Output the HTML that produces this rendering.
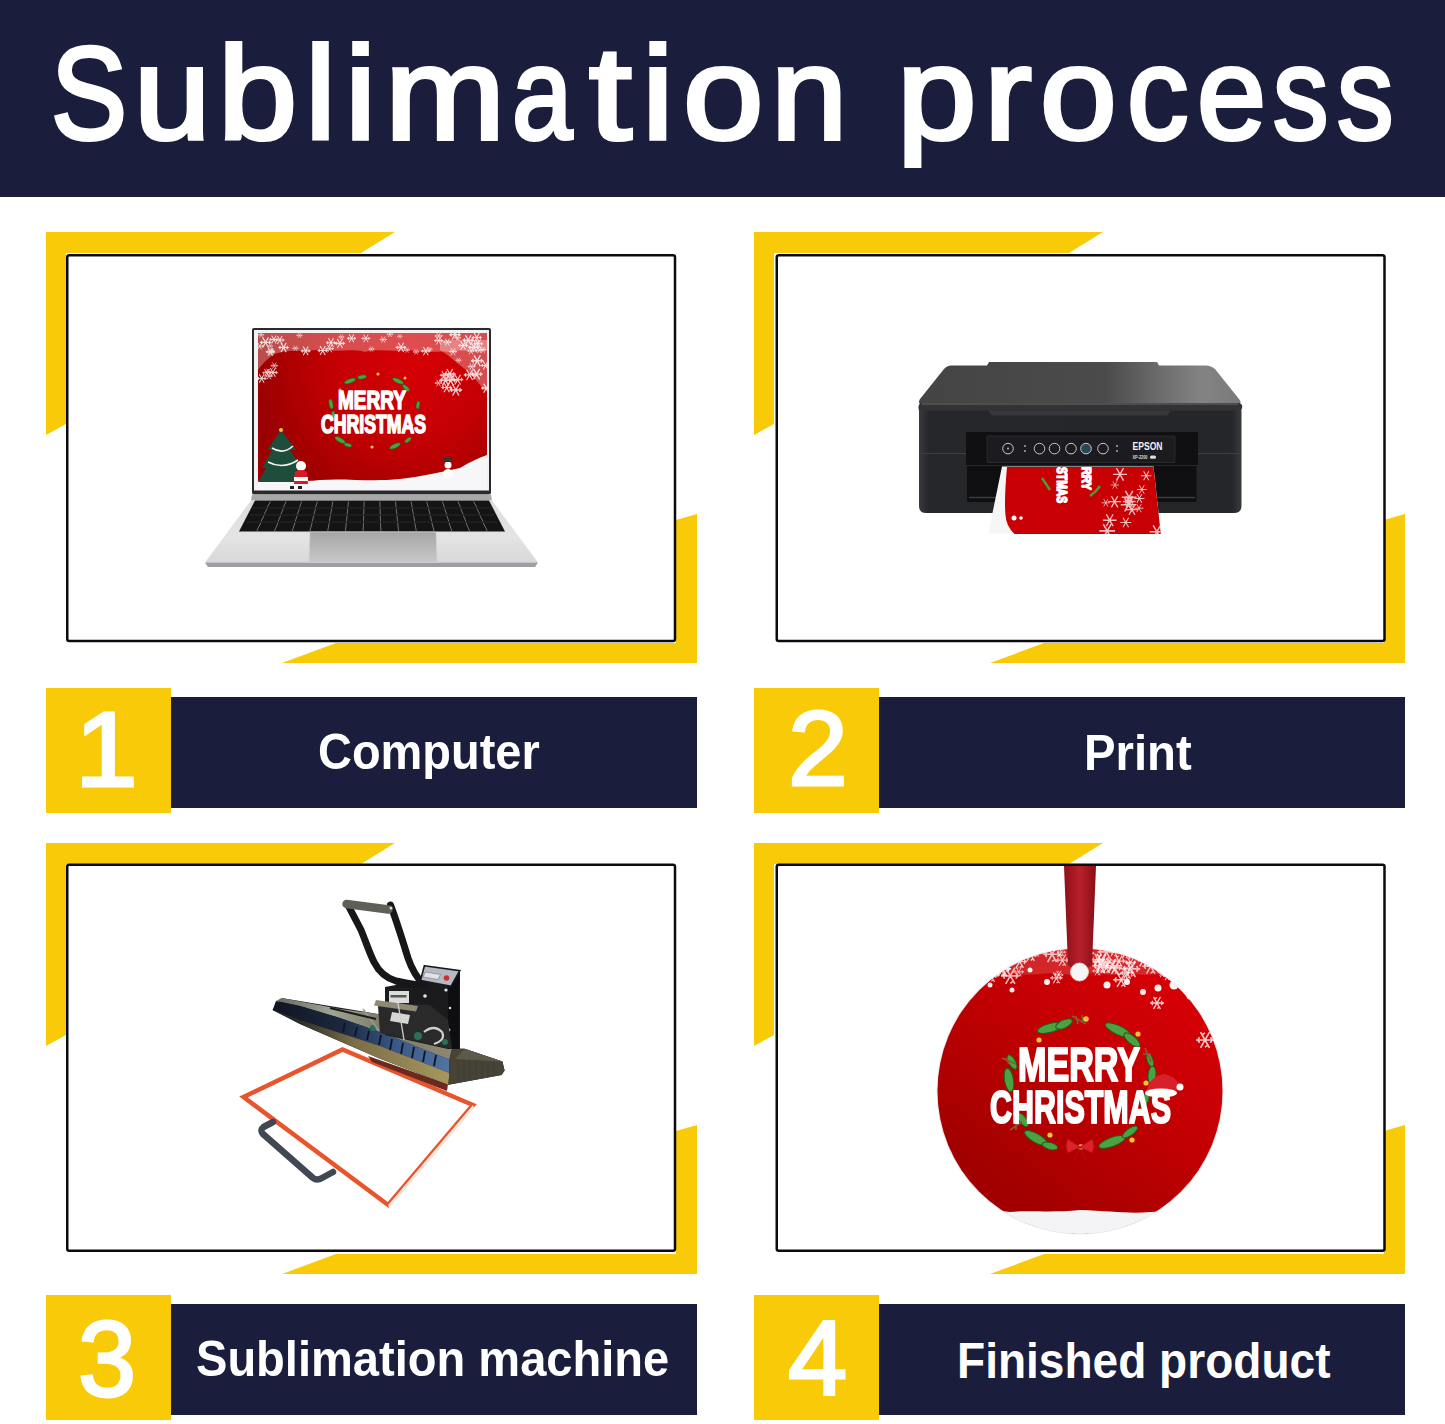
<!DOCTYPE html>
<html><head><meta charset="utf-8">
<style>
html,body{margin:0;padding:0;background:#fff;}
body{width:1445px;height:1424px;position:relative;overflow:hidden;font-family:"Liberation Sans",sans-serif;}
.abs{position:absolute;}
#hdr{left:0;top:0;width:1445px;height:197px;background:#1a1d3c;}
#hdr span{position:absolute;color:#fff;font-size:132px;-webkit-text-stroke:4px #fff;white-space:pre;line-height:1;transform-origin:0 0;}
.lbl{position:absolute;color:#fff;font-weight:700;font-size:50px;white-space:pre;line-height:1;transform-origin:0 0;}
.dig{position:absolute;color:#fff;font-size:108px;-webkit-text-stroke:3px #fff;white-space:pre;line-height:1;transform-origin:0 0;}
svg{position:absolute;left:0;top:0;}
</style></head><body>
<div id="hdr" class="abs">
<span style="left:50.5px;top:28px;transform:scaleX(0.863)">S</span>
<span style="left:133.8px;top:28px;transform:scaleX(1.041)">u</span>
<span style="left:217.5px;top:28px;transform:scaleX(1.078)">b</span>
<span style="left:305.1px;top:28px;transform:scaleX(1.056)">l</span>
<span style="left:344.6px;top:28px;transform:scaleX(1.062)">i</span>
<span style="left:385.4px;top:28px;transform:scaleX(1.093)">m</span>
<span style="left:511.5px;top:28px;transform:scaleX(0.822)">a</span>
<span style="left:588.6px;top:28px;transform:scaleX(1.168)">t</span>
<span style="left:642.1px;top:28px;transform:scaleX(1.081)">i</span>
<span style="left:682.5px;top:28px;transform:scaleX(1.097)">o</span>
<span style="left:770.5px;top:28px;transform:scaleX(1.038)">n</span>
<span style="left:897.0px;top:28px;transform:scaleX(1.083)">p</span>
<span style="left:984.1px;top:28px;transform:scaleX(1.089)">r</span>
<span style="left:1039.9px;top:28px;transform:scaleX(1.045)">o</span>
<span style="left:1127.2px;top:28px;transform:scaleX(0.931)">c</span>
<span style="left:1196.6px;top:28px;transform:scaleX(0.940)">e</span>
<span style="left:1273.2px;top:28px;transform:scaleX(0.839)">s</span>
<span style="left:1337.1px;top:28px;transform:scaleX(0.855)">s</span>
</div>
<svg width="1445" height="1424" viewBox="0 0 1445 1424">
 <defs>
  <g id="yframe">
   <polygon fill="#f9ca08" points="46,232 395,232 361,253 66,253 66,424 46,435"/>
   <polygon fill="#f9ca08" points="697,514 697,663 282,663 336,643 676,643 676,520"/>
  </g>
  <g id="label">
   <rect x="46" y="688" width="125" height="125" fill="#f9ca08"/>
   <rect x="171" y="697" width="526" height="111" fill="#1a1d3c"/>
  </g>
 </defs>
 <use href="#yframe"/>
 <use href="#yframe" x="708"/>
 <use href="#yframe" y="611"/>
 <use href="#yframe" x="708" y="611"/>
 <g fill="#fff" stroke="#0a0a10" stroke-width="2.5">
  <rect x="67.25" y="255.25" width="607.75" height="385.8" rx="2"/>
  <rect x="776.75" y="255.25" width="607.75" height="385.8" rx="2"/>
  <rect x="67.25" y="864.85" width="607.75" height="385.9" rx="2"/>
  <rect x="776.75" y="864.85" width="607.75" height="385.9" rx="2"/>
 </g>
 <use href="#label"/>
 <use href="#label" x="708"/>
 <use href="#label" y="607"/>
 <use href="#label" x="708" y="607"/>
</svg>
<svg width="1445" height="1424" viewBox="0 0 1445 1424">
<g id="laptop">
 <defs>
  <radialGradient id="lscr" cx="410" cy="365" r="155" gradientUnits="userSpaceOnUse"><stop offset="0" stop-color="#d60006"/><stop offset="0.5" stop-color="#c40003"/><stop offset="1" stop-color="#9a0000"/></radialGradient>
  <linearGradient id="ldeck" x1="0" y1="0" x2="0" y2="1">
   <stop offset="0" stop-color="#dcdcdc"/><stop offset="0.6" stop-color="#e4e4e4"/><stop offset="1" stop-color="#d8d8d8"/>
  </linearGradient>
 </defs>
 <rect x="252" y="328" width="239" height="166.5" rx="2" fill="#2a2a2d"/>
 <rect x="254" y="330" width="235" height="160.5" fill="#f2f2f4"/>
 <clipPath id="lclip"><rect x="258" y="333" width="229" height="157"/></clipPath>
 <g clip-path="url(#lclip)">
 <rect x="258" y="333" width="229" height="157" fill="url(#lscr)"/>
 <!-- top snow fringe -->
 <defs>
  <g id="lflake" stroke="#fff" stroke-width="2.2" fill="none">
   <path d="M-10,0 H10 M-5,-8.7 L5,8.7 M-5,8.7 L5,-8.7 M6,-3 L8,0 L6,3 M-6,-3 L-8,0 L-6,3"/>
  </g>
 </defs>
 <path d="M258,333 H487 V350 C475,354 465,348 452,352 C440,350 425,354 410,350 C395,353 380,348 365,352 C350,348 335,353 320,349 C305,353 290,348 275,354 C268,358 262,364 258,370 Z" fill="#fff" opacity="0.3"/>
 <path d="M440,340 H487 V392 C480,386 474,376 466,370 C458,364 450,356 440,350 Z" fill="#fff" opacity="0.3"/>
 <g opacity="0.8">
 <use href="#lflake" transform="translate(401.0,347.4) scale(0.53)"/>
 <use href="#lflake" transform="translate(473.9,347.3) scale(0.57)"/>
 <use href="#lflake" transform="translate(265.6,342.4) scale(0.58)"/>
 <use href="#lflake" transform="translate(407.0,350.2) scale(0.29)"/>
 <use href="#lflake" transform="translate(365.9,338.4) scale(0.44)"/>
 <use href="#lflake" transform="translate(389.9,334.2) scale(0.33)"/>
 <use href="#lflake" transform="translate(322.7,350.5) scale(0.52)"/>
 <use href="#lflake" transform="translate(295.4,348.3) scale(0.30)"/>
 <use href="#lflake" transform="translate(399.8,336.3) scale(0.25)"/>
 <use href="#lflake" transform="translate(457.7,337.8) scale(0.33)"/>
 <use href="#lflake" transform="translate(483.0,349.7) scale(0.35)"/>
 <use href="#lflake" transform="translate(478.2,343.7) scale(0.49)"/>
 <use href="#lflake" transform="translate(305.7,350.9) scale(0.49)"/>
 <use href="#lflake" transform="translate(479.4,350.1) scale(0.35)"/>
 <use href="#lflake" transform="translate(341.4,337.0) scale(0.30)"/>
 <use href="#lflake" transform="translate(273.9,339.4) scale(0.46)"/>
 <use href="#lflake" transform="translate(259.8,346.2) scale(0.37)"/>
 <use href="#lflake" transform="translate(329.7,348.7) scale(0.42)"/>
 <use href="#lflake" transform="translate(331.0,342.7) scale(0.50)"/>
 <use href="#lflake" transform="translate(272.0,351.6) scale(0.26)"/>
 <use href="#lflake" transform="translate(430.0,349.2) scale(0.26)"/>
 <use href="#lflake" transform="translate(438.6,340.6) scale(0.45)"/>
 <use href="#lflake" transform="translate(261.1,334.8) scale(0.31)"/>
 <use href="#lflake" transform="translate(476.8,337.5) scale(0.51)"/>
 <use href="#lflake" transform="translate(471.0,351.0) scale(0.37)"/>
 <use href="#lflake" transform="translate(339.9,343.4) scale(0.52)"/>
 <use href="#lflake" transform="translate(283.6,347.5) scale(0.53)"/>
 <use href="#lflake" transform="translate(455.0,334.7) scale(0.58)"/>
 <use href="#lflake" transform="translate(279.8,340.1) scale(0.46)"/>
 <use href="#lflake" transform="translate(468.3,340.1) scale(0.57)"/>
 <use href="#lflake" transform="translate(383.3,339.6) scale(0.36)"/>
 <use href="#lflake" transform="translate(299.5,335.4) scale(0.30)"/>
 <use href="#lflake" transform="translate(416.1,351.9) scale(0.31)"/>
 <use href="#lflake" transform="translate(270.1,351.8) scale(0.44)"/>
 <use href="#lflake" transform="translate(351.5,338.3) scale(0.46)"/>
 <use href="#lflake" transform="translate(447.4,342.2) scale(0.40)"/>
 <use href="#lflake" transform="translate(271.7,350.5) scale(0.26)"/>
 <use href="#lflake" transform="translate(371.5,349.1) scale(0.30)"/>
 <use href="#lflake" transform="translate(425.8,351.1) scale(0.47)"/>
 <use href="#lflake" transform="translate(438.7,335.9) scale(0.40)"/>
 <use href="#lflake" transform="translate(438.5,383.0) scale(0.38)"/>
 <use href="#lflake" transform="translate(455.8,390.0) scale(0.63)"/>
 <use href="#lflake" transform="translate(485.6,365.4) scale(0.47)"/>
 <use href="#lflake" transform="translate(471.6,366.6) scale(0.38)"/>
 <use href="#lflake" transform="translate(453.0,351.6) scale(0.42)"/>
 <use href="#lflake" transform="translate(486.3,388.2) scale(0.53)"/>
 <use href="#lflake" transform="translate(458.5,360.2) scale(0.29)"/>
 <use href="#lflake" transform="translate(445.5,380.2) scale(0.64)"/>
 <use href="#lflake" transform="translate(450.6,380.4) scale(0.60)"/>
 <use href="#lflake" transform="translate(469.6,374.9) scale(0.59)"/>
 <use href="#lflake" transform="translate(450.7,376.7) scale(0.38)"/>
 <use href="#lflake" transform="translate(457.7,379.6) scale(0.56)"/>
 <use href="#lflake" transform="translate(446.7,387.5) scale(0.54)"/>
 <use href="#lflake" transform="translate(463.1,345.5) scale(0.50)"/>
 <use href="#lflake" transform="translate(444.3,375.2) scale(0.46)"/>
 <use href="#lflake" transform="translate(476.6,374.1) scale(0.61)"/>
 <use href="#lflake" transform="translate(449.8,374.0) scale(0.58)"/>
 <use href="#lflake" transform="translate(477.2,360.8) scale(0.63)"/>
 <use href="#lflake" transform="translate(272.9,372.5) scale(0.49)"/>
 <use href="#lflake" transform="translate(274.3,365.7) scale(0.36)"/>
 <use href="#lflake" transform="translate(261.7,378.5) scale(0.48)"/>
 <use href="#lflake" transform="translate(266.6,372.7) scale(0.42)"/>
 <use href="#lflake" transform="translate(270.7,351.9) scale(0.43)"/>
 <use href="#lflake" transform="translate(268.3,371.6) scale(0.33)"/>
 <use href="#lflake" transform="translate(269.0,376.0) scale(0.39)"/>
 <use href="#lflake" transform="translate(270.5,346.1) scale(0.25)"/>
 </g>
 <!-- wreath -->
 <g fill="#4aa33e" stroke="#1f5a26" stroke-width="0.6"><ellipse cx="350" cy="381" rx="6" ry="2.2" transform="rotate(-20 350 381)"/><ellipse cx="362" cy="377" rx="4.5" ry="2" transform="rotate(-10 362 377)"/><ellipse cx="398" cy="381" rx="6" ry="2.2" transform="rotate(25 398 381)"/><ellipse cx="406" cy="388" rx="4.5" ry="2" transform="rotate(45 406 388)"/><ellipse cx="331" cy="404" rx="5" ry="2" transform="rotate(80 331 404)"/><ellipse cx="333" cy="415" rx="4" ry="1.8" transform="rotate(95 333 415)"/><ellipse cx="418" cy="405" rx="4" ry="1.8" transform="rotate(100 418 405)"/><ellipse cx="340" cy="440" rx="6" ry="2.2" transform="rotate(30 340 440)"/><ellipse cx="348" cy="445" rx="4" ry="1.8" transform="rotate(15 348 445)"/><ellipse cx="395" cy="446" rx="6" ry="2.2" transform="rotate(-25 395 446)"/><ellipse cx="408" cy="440" rx="4" ry="1.8" transform="rotate(-40 408 440)"/></g>
 <g fill="#f5c04a"><circle cx="378" cy="374" r="1.6"/><circle cx="405" cy="378" r="1.5"/><circle cx="340" cy="390" r="1.5"/><circle cx="372" cy="447" r="1.6"/><circle cx="412" cy="425" r="1.4"/></g>
 <!-- text -->
 <g font-family="Liberation Sans" font-weight="700" fill="#fff" stroke="#fff" stroke-width="1.6" stroke-linejoin="round">
  <text x="338" y="409" font-size="26" textLength="68" lengthAdjust="spacingAndGlyphs">MERRY</text>
  <text x="321" y="433" font-size="26" textLength="105" lengthAdjust="spacingAndGlyphs">CHRISTMAS</text>
 </g>
 <!-- bottom snow -->
 <path d="M258,481 C280,478 300,483 320,480 C345,478 370,482 400,479 C420,477 440,472 460,468 C470,462 478,458 487,455 V490 H258 Z" fill="#f7f7f9"/>
 <!-- tree -->
 <path d="M281,430 L296,450 L290,450 L302,468 L296,468 L305,482 H258 L266,468 L262,468 L272,450 L267,450 Z" fill="#1e4d3c"/>
 <path d="M272,448 Q283,455 293,446 M268,462 Q283,470 298,460" stroke="#f4f4f4" stroke-width="1.6" fill="none"/>
 <circle cx="281" cy="430" r="2" fill="#f5c04a"/>
 <!-- santa -->
 <circle cx="301" cy="466" r="5" fill="#fff"/><path d="M295,472 Q301,468 307,472 L308,484 H294 Z" fill="#d81b22"/><path d="M294,477 H308 V481 H294Z" fill="#fff"/>
 <rect x="290" y="486" width="4" height="3" fill="#222"/><rect x="298" y="486" width="4" height="3" fill="#222"/>
 <!-- snowman -->
 <circle cx="448" cy="465" r="3.5" fill="#fff"/><circle cx="448" cy="474" r="5" fill="#fff"/><rect x="444" y="458" width="8" height="4" fill="#333"/>
 </g>
 <!-- base -->
 <polygon points="252,494.5 491,494.5 492,500.5 251,500.5" fill="#a8a8a8"/>
 <polygon points="251,500.5 492,500.5 538,562.5 205,562.5" fill="url(#ldeck)"/>
 <polygon points="205,562.5 538,562.5 535,567 208,567" fill="#9d9da3"/>
 <polygon points="255,500.5 489,500.5 505,531.5 239,531.5" fill="#141414"/>
 <g stroke="#7a7a7a" stroke-width="0.9">
  <line x1="270.4" y1="501.5" x2="267.2" y2="507.5"/>
  <line x1="286.0" y1="501.5" x2="283.4" y2="507.5"/>
  <line x1="301.6" y1="501.5" x2="299.5" y2="507.5"/>
  <line x1="317.3" y1="501.5" x2="315.6" y2="507.5"/>
  <line x1="332.9" y1="501.5" x2="331.7" y2="507.5"/>
  <line x1="348.5" y1="501.5" x2="347.8" y2="507.5"/>
  <line x1="364.2" y1="501.5" x2="363.9" y2="507.5"/>
  <line x1="379.8" y1="501.5" x2="380.1" y2="507.5"/>
  <line x1="395.5" y1="501.5" x2="396.2" y2="507.5"/>
  <line x1="411.1" y1="501.5" x2="412.3" y2="507.5"/>
  <line x1="426.7" y1="501.5" x2="428.4" y2="507.5"/>
  <line x1="442.4" y1="501.5" x2="444.5" y2="507.5"/>
  <line x1="458.0" y1="501.5" x2="460.6" y2="507.5"/>
  <line x1="473.6" y1="501.5" x2="476.8" y2="507.5"/>
  <line x1="267.2" y1="508.5" x2="264.1" y2="514.5"/>
  <line x1="283.4" y1="508.5" x2="280.7" y2="514.5"/>
  <line x1="299.5" y1="508.5" x2="297.3" y2="514.5"/>
  <line x1="315.6" y1="508.5" x2="313.9" y2="514.5"/>
  <line x1="331.7" y1="508.5" x2="330.5" y2="514.5"/>
  <line x1="347.8" y1="508.5" x2="347.1" y2="514.5"/>
  <line x1="363.9" y1="508.5" x2="363.7" y2="514.5"/>
  <line x1="380.1" y1="508.5" x2="380.3" y2="514.5"/>
  <line x1="396.2" y1="508.5" x2="396.9" y2="514.5"/>
  <line x1="412.3" y1="508.5" x2="413.5" y2="514.5"/>
  <line x1="428.4" y1="508.5" x2="430.1" y2="514.5"/>
  <line x1="444.5" y1="508.5" x2="446.7" y2="514.5"/>
  <line x1="460.6" y1="508.5" x2="463.3" y2="514.5"/>
  <line x1="476.8" y1="508.5" x2="479.9" y2="514.5"/>
  <line x1="264.1" y1="515.5" x2="261.0" y2="521.5"/>
  <line x1="280.7" y1="515.5" x2="278.1" y2="521.5"/>
  <line x1="297.3" y1="515.5" x2="295.1" y2="521.5"/>
  <line x1="313.9" y1="515.5" x2="312.2" y2="521.5"/>
  <line x1="330.5" y1="515.5" x2="329.3" y2="521.5"/>
  <line x1="347.1" y1="515.5" x2="346.4" y2="521.5"/>
  <line x1="363.7" y1="515.5" x2="363.5" y2="521.5"/>
  <line x1="380.3" y1="515.5" x2="380.5" y2="521.5"/>
  <line x1="396.9" y1="515.5" x2="397.6" y2="521.5"/>
  <line x1="413.5" y1="515.5" x2="414.7" y2="521.5"/>
  <line x1="430.1" y1="515.5" x2="431.8" y2="521.5"/>
  <line x1="446.7" y1="515.5" x2="448.9" y2="521.5"/>
  <line x1="463.3" y1="515.5" x2="465.9" y2="521.5"/>
  <line x1="479.9" y1="515.5" x2="483.0" y2="521.5"/>
  <line x1="261.0" y1="522.5" x2="256.7" y2="531.0"/>
  <line x1="278.1" y1="522.5" x2="274.5" y2="531.0"/>
  <line x1="295.1" y1="522.5" x2="292.2" y2="531.0"/>
  <line x1="312.2" y1="522.5" x2="309.9" y2="531.0"/>
  <line x1="329.3" y1="522.5" x2="327.7" y2="531.0"/>
  <line x1="346.4" y1="522.5" x2="345.4" y2="531.0"/>
  <line x1="363.5" y1="522.5" x2="363.1" y2="531.0"/>
  <line x1="380.5" y1="522.5" x2="380.9" y2="531.0"/>
  <line x1="397.6" y1="522.5" x2="398.6" y2="531.0"/>
  <line x1="414.7" y1="522.5" x2="416.3" y2="531.0"/>
  <line x1="431.8" y1="522.5" x2="434.1" y2="531.0"/>
  <line x1="448.9" y1="522.5" x2="451.8" y2="531.0"/>
  <line x1="465.9" y1="522.5" x2="469.5" y2="531.0"/>
  <line x1="483.0" y1="522.5" x2="487.3" y2="531.0"/>
 </g>
 <g stroke="#2e2e2e" stroke-width="0.8">
  <line x1="252" y1="508" x2="492" y2="508"/><line x1="250" y1="515" x2="494" y2="515"/><line x1="247" y1="522" x2="497" y2="522"/>
 </g>
 <linearGradient id="ltp" x1="0" y1="0" x2="0" y2="1"><stop offset="0" stop-color="#a6a6a6"/><stop offset="1" stop-color="#c8c8c8"/></linearGradient>
 <polygon points="310,532 436,532 437,562.5 309,562.5" fill="url(#ltp)" stroke="#d0d0d0" stroke-width="0.6"/>
</g>

<g id="printer">
 <defs>
  <linearGradient id="plid" x1="920" y1="0" x2="1240" y2="0" gradientUnits="userSpaceOnUse"><stop offset="0" stop-color="#444"/><stop offset="0.58" stop-color="#4b4b4b"/><stop offset="0.76" stop-color="#6e6e6e"/><stop offset="0.88" stop-color="#838383"/><stop offset="1" stop-color="#7a7a7a"/></linearGradient>
  <linearGradient id="pbody" x1="0" y1="0" x2="1" y2="0"><stop offset="0" stop-color="#3a3b3e"/><stop offset="0.03" stop-color="#26272a"/><stop offset="0.97" stop-color="#252629"/><stop offset="1" stop-color="#3a3b3e"/></linearGradient>
 </defs>
 <!-- lid top -->
 <path d="M951,365.5 L987,365.5 L989,362 L1157,362 L1159,365.5 L1206,365.5 Q1211,365.5 1215,369 L1239,399 Q1243,404 1237,405 L923,405 Q917,404 920,399 L944,369 Q947,365.5 951,365.5 Z" fill="url(#plid)"/>
 <!-- lid front edge -->
 <path d="M921,403 H1239 Q1243,404 1242,408 L1241,411 H919 L918.5,408 Q918,404 921,403 Z" fill="#333336"/>
 <line x1="922" y1="404" x2="1238" y2="404" stroke="#6a6a6e" stroke-width="1"/>
 <!-- body -->
 <path d="M919,410.5 H1241.5 V506 Q1241.5,513 1234,513 H926 Q919,513 919,506 Z" fill="url(#pbody)"/>
 <path d="M988,410.5 H1171 L1167,415.5 H992 Z" fill="#38383c"/>
 <line x1="920" y1="453.5" x2="966" y2="453.5" stroke="#3e3e42" stroke-width="1.2"/>
 <line x1="1198" y1="453.5" x2="1241" y2="453.5" stroke="#3e3e42" stroke-width="1.2"/>
 <!-- control panel -->
 <rect x="966" y="432" width="232" height="33" fill="#101012"/>
 <rect x="987" y="436" width="188" height="26.5" rx="1" fill="#1c1c20" stroke="#2e2e33" stroke-width="0.8"/>
 <g fill="none" stroke="#c8c8cc" stroke-width="1">
  <circle cx="1008" cy="448.6" r="5.3"/><circle cx="1039.5" cy="448.6" r="5.3"/><circle cx="1054.5" cy="448.6" r="5.3"/>
  <circle cx="1071" cy="448.6" r="5.3"/><circle cx="1103" cy="448.6" r="5.3"/>
 </g>
 <circle cx="1086" cy="448.6" r="5.3" fill="#2b4556" stroke="#c8c8cc" stroke-width="1"/>
 <g fill="#bbb"><circle cx="1025" cy="446" r="0.9"/><circle cx="1025" cy="451" r="0.9"/><circle cx="1117" cy="446" r="0.9"/><circle cx="1117" cy="451" r="0.9"/><circle cx="1008" cy="448.6" r="1"/></g>
 <text x="1132.5" y="450.2" font-family="Liberation Sans" font-weight="700" font-size="10.5" fill="#f2f2f2" textLength="30" lengthAdjust="spacingAndGlyphs">EPSON</text>
 <text x="1132.5" y="459" font-family="Liberation Sans" font-weight="700" font-size="4.5" fill="#dcdcdc" textLength="15" lengthAdjust="spacingAndGlyphs">XP-2200</text>
 <rect x="1150" y="455.5" width="6" height="3.2" rx="1.5" fill="#dcdcdc"/>
 <!-- tray slot -->
 <path d="M967,466 H1196.5 V500.5 Q1196.5,502 1195,502 H969 Q967,502 967,500 Z" fill="#0f0f11"/>
 <line x1="969" y1="497.5" x2="1195" y2="497.5" stroke="#3c3c40" stroke-width="1.5"/>
 <!-- paper -->
 <path d="M1002,466.5 H1153.5 L1160.8,533.5 H988.3 Z" fill="#f6f6f6"/>
 <path d="M1007,467 H1153.5 L1160.8,534 H1014.5 Q1006,526 1005.5,515 Q1004,500 1007,467 Z" fill="#c80004"/>
 <defs><clipPath id="pclip"><path d="M1007,467 H1153.5 L1160.8,534 H1014.5 Q1006,526 1005.5,515 Q1004,500 1007,467 Z"/></clipPath>
 <g id="pflake" stroke="#fff" stroke-width="2" fill="none"><path d="M-10,0 H10 M-5,-8.7 L5,8.7 M-5,8.7 L5,-8.7"/></g></defs>
 <g clip-path="url(#pclip)" opacity="0.75">
 <use href="#pflake" transform="translate(1128.5,504.7) scale(0.77)"/>
 <use href="#pflake" transform="translate(1129.2,501.5) scale(0.63)"/>
 <use href="#pflake" transform="translate(1114.6,501.7) scale(0.65)"/>
 <use href="#pflake" transform="translate(1146.2,475.8) scale(0.52)"/>
 <use href="#pflake" transform="translate(1109.7,520.2) scale(0.68)"/>
 <use href="#pflake" transform="translate(1107.2,530.9) scale(0.79)"/>
 <use href="#pflake" transform="translate(1139.0,508.2) scale(0.46)"/>
 <use href="#pflake" transform="translate(1105.8,502.8) scale(0.42)"/>
 <use href="#pflake" transform="translate(1114.9,485.0) scale(0.41)"/>
 <use href="#pflake" transform="translate(1129.1,497.3) scale(0.74)"/>
 <use href="#pflake" transform="translate(1132.0,509.7) scale(0.60)"/>
 <use href="#pflake" transform="translate(1139.4,498.4) scale(0.51)"/>
 <use href="#pflake" transform="translate(1156.9,531.7) scale(0.74)"/>
 <use href="#pflake" transform="translate(1141.8,489.5) scale(0.49)"/>
 <use href="#pflake" transform="translate(1120.0,474.4) scale(0.71)"/>
 <use href="#pflake" transform="translate(1125.8,522.5) scale(0.55)"/>
 </g>
 <g transform="translate(1057,467) rotate(90)" font-family="Liberation Sans" font-weight="700" fill="#fff" stroke="#fff" stroke-width="1.5" stroke-linejoin="round">
  <text x="0" y="0" font-size="14" textLength="36" lengthAdjust="spacingAndGlyphs">STMAS</text>
 </g>
 <g transform="translate(1082,467) rotate(90)" font-family="Liberation Sans" font-weight="700" fill="#fff" stroke="#fff" stroke-width="1.5" stroke-linejoin="round">
  <text x="0" y="0" font-size="13" textLength="23" lengthAdjust="spacingAndGlyphs">RRY</text>
 </g>
 <path d="M1042,478 Q1046,484 1050,490 M1100,486 Q1096,492 1090,496" stroke="#4a9a3a" stroke-width="2.5" fill="none"/>
 <g fill="#fff"><circle cx="1014" cy="518" r="2.5"/><circle cx="1021" cy="518" r="1.8"/></g>
</g>

<g id="press">
 <defs>
  <linearGradient id="hpblue" x1="272" y1="0" x2="450" y2="0" gradientUnits="userSpaceOnUse"><stop offset="0" stop-color="#10151f"/><stop offset="0.4" stop-color="#1c2840"/><stop offset="0.7" stop-color="#3a5888"/><stop offset="1" stop-color="#5274a2"/></linearGradient>
  <linearGradient id="hptop" x1="280" y1="0" x2="452" y2="0" gradientUnits="userSpaceOnUse"><stop offset="0" stop-color="#6a6e66"/><stop offset="0.3" stop-color="#9ea494"/><stop offset="0.6" stop-color="#7e7a66"/><stop offset="1" stop-color="#8e8870"/></linearGradient>
  <linearGradient id="hpund" x1="300" y1="0" x2="450" y2="0" gradientUnits="userSpaceOnUse"><stop offset="0" stop-color="#2a2a26"/><stop offset="0.35" stop-color="#7a6c48"/><stop offset="1" stop-color="#a8985e"/></linearGradient>
 </defs>
 <!-- frame / lower platen -->
 <polygon points="243.5,1097 342.5,1049.5 473,1105 388.2,1205" fill="#fff" stroke="#e8552c" stroke-width="4.5" stroke-linejoin="miter"/>
 <!-- handle -->
 <path d="M273,1122 L263.5,1127 Q259.5,1130 263,1134 L313,1178 Q317,1181 322,1178 L333,1172" fill="none" stroke="#414753" stroke-width="6.5" stroke-linecap="round" stroke-linejoin="round"/>
 <polygon points="388.2,1205 473,1105 474,1108 389,1208" fill="#f0e6dc"/>
 <!-- shadow under platen -->
 <polygon points="368,1056 448,1084 447,1091 372,1062" fill="#6a2a20"/>
 <!-- upper platen -->
 <polygon points="281.6,997.9 378,1014 445,1030 452,1048.8 464.6,1048.8 502.4,1061.4 504.6,1070.4 501.5,1074.9 448.4,1084.8 380,1058.7 300,1024 272.6,1010" fill="#1b1d22"/>
 <polygon points="281.6,997.9 340,1009 378,1014 400,1020 452,1048.8 449.3,1059.6 380,1032 340,1018 300,1006 276,1001" fill="url(#hptop)"/>
 <polygon points="276,1001 300,1006 340,1018 380,1032 449.3,1059.6 449.3,1073.1 380,1046 300,1020 272.6,1010" fill="url(#hpblue)"/>
 <polygon points="272.6,1010 300,1020 380,1046 449.3,1073.1 448.4,1084.8 380,1058.7 300,1024" fill="url(#hpund)"/>
 <polygon points="449.3,1059.6 452,1048.8 464.6,1048.8 502.4,1061.4 504.6,1070.4 501.5,1074.9 448.4,1084.8 449.3,1073.1" fill="#474437"/>
 <polygon points="464.6,1048.8 502.4,1061.4 455,1059" fill="#5e5a4a"/>
 <g stroke="#3e3b34" stroke-width="0.8">
  <line x1="458" y1="1060" x2="458" y2="1082"/><line x1="464" y1="1060" x2="464" y2="1081"/><line x1="470" y1="1061" x2="470" y2="1080"/>
  <line x1="476" y1="1061" x2="476" y2="1079"/><line x1="482" y1="1062" x2="482" y2="1078"/><line x1="488" y1="1062" x2="488" y2="1077"/><line x1="494" y1="1063" x2="494" y2="1076"/>
 </g>
 <g stroke="#0e1424" stroke-width="1.8">
  <line x1="345" y1="1023" x2="343" y2="1032"/><line x1="357" y1="1027" x2="355" y2="1036"/><line x1="369" y1="1031" x2="367" y2="1040"/>
  <line x1="381" y1="1035" x2="379" y2="1045"/><line x1="392" y1="1039" x2="390" y2="1050"/><line x1="403" y1="1043" x2="401" y2="1054"/>
  <line x1="414" y1="1047" x2="412" y2="1058"/><line x1="425" y1="1051" x2="423" y2="1062"/><line x1="436" y1="1055" x2="434" y2="1066"/>
 </g>
<!-- column -->
 <polygon points="385,987 420,980.5 451,986.4 459.8,970.6 459.8,1049 448,1049 385,1035" fill="#1b1b1e"/>
 <polygon points="448,984 459.8,971 459.8,1049 448,1049" fill="#0e0e10"/>
 <rect x="389" y="991" width="20" height="12" fill="#dcdcdc"/>
 <rect x="390.5" y="995" width="16" height="2.5" fill="#555"/>
 <g fill="#e8e8e8"><circle cx="425" cy="996" r="1.8"/><circle cx="446" cy="990" r="1.6"/><circle cx="450" cy="1008" r="1.2"/><circle cx="424" cy="1023" r="1.6"/><circle cx="449" cy="1030" r="1.4"/></g>
 <!-- mechanism -->
 <polygon points="378,1006 395,1003 430,1005 448,1020 452,1049 380,1033" fill="#2a2a2b"/>
 <polygon points="376,1000 418,1006 416,1011.5 374,1005.5" fill="#8e8a74"/>
 <polygon points="392,1012 410,1015 408,1024 390,1021" fill="#d6d6d6"/>
 <circle cx="418" cy="1036" r="4" fill="#2c6e58"/><circle cx="373" cy="1028" r="3" fill="#2c6e58"/><circle cx="445" cy="1042" r="3" fill="#2c6e58"/>
 <path d="M424,1032 Q434,1024 442,1032 Q446,1040 434,1044" stroke="#cfcfcf" stroke-width="2.2" fill="none"/>
 <line x1="363" y1="1009" x2="379" y2="1031" stroke="#9a9a9a" stroke-width="1.5"/>
 <line x1="398" y1="1003" x2="404" y2="1040" stroke="#cfcfcf" stroke-width="1.3"/>
 <line x1="330" y1="1008" x2="376" y2="1019" stroke="#1a1a1a" stroke-width="2"/>
 <!-- handle arms -->
 <path d="M349,907 L361,930 C366,942 369,952 374,962 C379,972 386,978 396,981 C404,983 412,984 419,985" fill="none" stroke="#17171a" stroke-width="7" stroke-linecap="round"/>
 <path d="M390.5,905 C397,922 403,942 408,958 C412,970 417,978 424,985" fill="none" stroke="#17171a" stroke-width="7" stroke-linecap="round"/>
 <line x1="346.5" y1="904" x2="388.5" y2="909.5" stroke="#5f5f58" stroke-width="8.5" stroke-linecap="round"/>
 <circle cx="391" cy="908" r="1.5" fill="#ddd"/>
 <!-- control box -->
 <polygon points="424.4,965.7 459.8,970.6 451,986.4 420.5,980.5" fill="#b4b9c4" stroke="#18181b" stroke-width="1.6"/>
 <polygon points="425.5,972 440.5,974.5 438,979.5 423,977" fill="#dfe2e8" stroke="#666" stroke-width="0.5"/>
 <circle cx="446.5" cy="978" r="2.8" fill="#cf302c"/>
 </g>

<g id="ornament">
 <defs>
  <linearGradient id="orn" x1="1160" y1="990" x2="1010" y2="1190" gradientUnits="userSpaceOnUse"><stop offset="0" stop-color="#d40006"/><stop offset="0.45" stop-color="#c00002"/><stop offset="1" stop-color="#a20000"/></linearGradient>
  <linearGradient id="rib" x1="0" y1="0" x2="1" y2="0">
   <stop offset="0" stop-color="#8e0f18"/><stop offset="0.5" stop-color="#b8202a"/><stop offset="1" stop-color="#8a0e16"/>
  </linearGradient>
  <clipPath id="ornclip"><circle cx="1080" cy="1091" r="143"/></clipPath>
 </defs>
 <circle cx="1080" cy="1091" r="143.5" fill="#e8e8ea"/>
 <circle cx="1080" cy="1091" r="142.5" fill="url(#orn)"/>
 <g clip-path="url(#ornclip)">
  <!-- bottom snow -->
  <path d="M920,1211 C960,1214 990,1209 1010,1212 C1030,1210 1050,1213 1080,1210 C1110,1211 1130,1214 1150,1212 C1170,1210 1190,1214 1240,1212 V1240 H920 Z" fill="#f4f4f6"/>
  <!-- top snowflakes band -->
  <defs><g id="oflake" stroke="#fff" stroke-width="1.8" fill="none"><path d="M-10,0 H10 M-5,-8.7 L5,8.7 M-5,8.7 L5,-8.7 M6,-3 L8,0 L6,3 M-6,-3 L-8,0 L-6,3 M-3,-6 L0,-8 M3,6 L0,8"/></g></defs>
  <path d="M930,948 H1230 V972 C1215,970 1205,978 1190,975 C1170,970 1150,978 1130,973 C1110,978 1090,970 1070,975 C1050,970 1030,978 1010,973 C990,978 970,970 950,976 C940,978 935,982 930,985 Z" fill="#fff" opacity="0.15"/>
  <g opacity="0.8">
  <use href="#oflake" transform="translate(1030.7,954.5) scale(0.73)"/>
  <use href="#oflake" transform="translate(960.3,966.1) scale(0.58)"/>
  <use href="#oflake" transform="translate(956.2,965.2) scale(0.42)"/>
  <use href="#oflake" transform="translate(1061.4,952.1) scale(0.45)"/>
  <use href="#oflake" transform="translate(1058.9,974.8) scale(0.46)"/>
  <use href="#oflake" transform="translate(1002.5,968.8) scale(0.87)"/>
  <use href="#oflake" transform="translate(1101.6,961.9) scale(0.89)"/>
  <use href="#oflake" transform="translate(953.0,975.8) scale(0.54)"/>
  <use href="#oflake" transform="translate(980.4,953.5) scale(0.55)"/>
  <use href="#oflake" transform="translate(1168.5,955.4) scale(0.69)"/>
  <use href="#oflake" transform="translate(1118.9,961.2) scale(0.67)"/>
  <use href="#oflake" transform="translate(957.6,951.8) scale(0.50)"/>
  <use href="#oflake" transform="translate(1130.5,962.8) scale(0.56)"/>
  <use href="#oflake" transform="translate(1104.0,963.6) scale(0.55)"/>
  <use href="#oflake" transform="translate(1162.4,971.0) scale(0.52)"/>
  <use href="#oflake" transform="translate(1100.8,965.8) scale(0.84)"/>
  <use href="#oflake" transform="translate(1144.2,958.6) scale(0.89)"/>
  <use href="#oflake" transform="translate(973.1,962.5) scale(0.78)"/>
  <use href="#oflake" transform="translate(982.6,964.7) scale(0.42)"/>
  <use href="#oflake" transform="translate(1127.1,972.9) scale(0.69)"/>
  <use href="#oflake" transform="translate(1185.1,959.4) scale(0.75)"/>
  <use href="#oflake" transform="translate(1106.4,967.4) scale(0.63)"/>
  <use href="#oflake" transform="translate(1175.2,978.3) scale(0.64)"/>
  <use href="#oflake" transform="translate(1126.0,951.8) scale(0.75)"/>
  <use href="#oflake" transform="translate(1121.2,979.8) scale(0.81)"/>
  <use href="#oflake" transform="translate(1019.7,961.6) scale(0.73)"/>
  <use href="#oflake" transform="translate(946.3,963.9) scale(0.48)"/>
  <use href="#oflake" transform="translate(972.8,951.8) scale(0.78)"/>
  <use href="#oflake" transform="translate(976.2,957.4) scale(0.60)"/>
  <use href="#oflake" transform="translate(1184.0,952.4) scale(0.62)"/>
  <use href="#oflake" transform="translate(1157.0,1003.0) scale(0.70)"/>
  <use href="#oflake" transform="translate(1205.0,1040.0) scale(0.90)"/>
  <use href="#oflake" transform="translate(1168.0,975.0) scale(0.60)"/>
  <use href="#oflake" transform="translate(1115.0,968.0) scale(0.70)"/>
  </g>
  <g opacity="0.7"><use href="#oflake" transform="translate(1001.2,969.3) scale(0.78)"/><use href="#oflake" transform="translate(1079.8,956.0) scale(0.88)"/><use href="#oflake" transform="translate(1162.0,964.3) scale(0.70)"/><use href="#oflake" transform="translate(1019.0,950.1) scale(0.62)"/><use href="#oflake" transform="translate(1106.3,951.9) scale(0.88)"/><use href="#oflake" transform="translate(1018.1,956.5) scale(0.43)"/><use href="#oflake" transform="translate(1209.4,970.7) scale(0.93)"/><use href="#oflake" transform="translate(1114.0,951.0) scale(0.60)"/><use href="#oflake" transform="translate(1084.4,953.2) scale(0.97)"/><use href="#oflake" transform="translate(1052.1,954.3) scale(0.89)"/><use href="#oflake" transform="translate(991.2,976.0) scale(0.67)"/><use href="#oflake" transform="translate(1098.0,959.6) scale(0.69)"/><use href="#oflake" transform="translate(1006.7,951.0) scale(0.92)"/><use href="#oflake" transform="translate(1018.7,971.8) scale(0.53)"/><use href="#oflake" transform="translate(1202.2,975.0) scale(0.85)"/><use href="#oflake" transform="translate(1150.7,966.3) scale(0.84)"/><use href="#oflake" transform="translate(990.6,963.3) scale(0.90)"/><use href="#oflake" transform="translate(1010.3,975.8) scale(0.93)"/><use href="#oflake" transform="translate(1062.4,960.2) scale(0.67)"/><use href="#oflake" transform="translate(1056.4,977.9) scale(0.63)"/><use href="#oflake" transform="translate(966.7,952.6) scale(0.83)"/><use href="#oflake" transform="translate(1208.2,963.9) scale(0.69)"/><use href="#oflake" transform="translate(1097.6,970.9) scale(0.53)"/><use href="#oflake" transform="translate(1112.2,965.6) scale(0.77)"/><use href="#oflake" transform="translate(1005.2,954.8) scale(0.61)"/><use href="#oflake" transform="translate(1191.8,959.7) scale(0.76)"/><use href="#oflake" transform="translate(1036.7,952.9) scale(0.44)"/><use href="#oflake" transform="translate(1163.4,971.8) scale(0.62)"/><use href="#oflake" transform="translate(1130.8,968.9) scale(0.94)"/><use href="#oflake" transform="translate(1199.6,961.4) scale(0.99)"/></g>
  <g fill="#fff" opacity="0.9"><circle cx="1012" cy="990" r="2.5"/><circle cx="990" cy="985" r="2.5"/><circle cx="1143" cy="992" r="3"/><circle cx="1190" cy="996" r="3.5"/><circle cx="1205" cy="1010" r="3"/></g>
  <g fill="#fff" opacity="0.95">
   <circle cx="1107" cy="985" r="3.5"/><circle cx="1127" cy="982" r="3"/><circle cx="1158" cy="988" r="3.5"/><circle cx="1174" cy="985" r="4.5"/>
   <circle cx="1047" cy="982" r="3"/><circle cx="1030" cy="970" r="2.5"/>
  </g>
  <!-- wreath -->
  <g fill="#4aa33e" stroke="#1f5a26" stroke-width="1">
  <ellipse cx="1050" cy="1028" rx="13" ry="4.5" transform="rotate(-15 1050 1028)"/>
  <ellipse cx="1064" cy="1024" rx="9" ry="4" transform="rotate(-25 1064 1024)"/>
  <ellipse cx="1118" cy="1030" rx="14" ry="4.5" transform="rotate(25 1118 1030)"/>
  <ellipse cx="1132" cy="1040" rx="10" ry="4" transform="rotate(40 1132 1040)"/>
  <ellipse cx="1009" cy="1080" rx="12" ry="4.5" transform="rotate(80 1009 1080)"/>
  <ellipse cx="1012" cy="1062" rx="8" ry="3.5" transform="rotate(60 1012 1062)"/>
  <ellipse cx="1152" cy="1075" rx="9" ry="4" transform="rotate(95 1152 1075)"/>
  <ellipse cx="1150" cy="1060" rx="7" ry="3" transform="rotate(70 1150 1060)"/>
  <ellipse cx="1036" cy="1138" rx="13" ry="4.5" transform="rotate(30 1036 1138)"/>
  <ellipse cx="1050" cy="1146" rx="8" ry="3.5" transform="rotate(15 1050 1146)"/>
  <ellipse cx="1112" cy="1142" rx="14" ry="4.5" transform="rotate(-20 1112 1142)"/>
  <ellipse cx="1130" cy="1132" rx="9" ry="3.5" transform="rotate(-35 1130 1132)"/>
  <ellipse cx="1023" cy="1120" rx="8" ry="3.5" transform="rotate(55 1023 1120)"/>
  <ellipse cx="1145" cy="1100" rx="8" ry="3.5" transform="rotate(-70 1145 1100)"/>
  </g>
  <g stroke="#8a5a30" stroke-width="1.6" fill="none">
   <path d="M1072,1016 l14,8 m-10,-8 l2,8 m4,-9 l1,8"/><path d="M1145,1048 l6,14 m-8,-8 l8,0"/><path d="M1002,1058 l14,6 m-10,-6 l3,6"/><path d="M1010,1130 l12,-8 m-6,8 l0,-8"/>
  </g>
  <g fill="#f4c430">
   <circle cx="1086" cy="1019" r="2.8"/><circle cx="1138" cy="1034" r="2.6"/><circle cx="1039" cy="1040" r="2.6"/><circle cx="1146" cy="1083" r="2.6"/>
   <circle cx="1050" cy="1135" r="2.6"/><circle cx="1081" cy="1147" r="2.8"/><circle cx="1132" cy="1140" r="2.6"/>
  </g>
  <path d="M1080,1147 l-12,-8 q-4,6 0,14 z M1080,1147 l12,-8 q4,6 0,14 z M1080,1147 l-6,12 M1080,1147 l6,12" fill="#e0202a" stroke="#b01018" stroke-width="1"/>
  <!-- text -->
  <g font-family="Liberation Sans" font-weight="700" fill="#fff" stroke="#fff" stroke-width="2.2" stroke-linejoin="round">
   <text x="1018" y="1081" font-size="49" textLength="122" lengthAdjust="spacingAndGlyphs">MERRY</text>
   <text x="990" y="1123" font-size="47" textLength="181" lengthAdjust="spacingAndGlyphs">CHRISTMAS</text>
  </g>
  
  <!-- santa hat -->
  <path d="M1146,1092 Q1150,1076 1164,1074 Q1176,1076 1180,1086 L1176,1092 Z" fill="#d8202a"/>
  <ellipse cx="1161" cy="1093" rx="16" ry="4.5" fill="#fff"/><circle cx="1180" cy="1087" r="3.5" fill="#fff"/>
 </g>
 <!-- ribbon -->
 <path d="M1064,866 H1096 L1092,965 Q1080,975 1068,965 Z" fill="url(#rib)"/>
 <circle cx="1079.5" cy="972" r="9" fill="#f6f6f6"/>
 <circle cx="1079.5" cy="972" r="9" fill="none" stroke="#d8d8d8" stroke-width="0.8"/>
</g>

</svg>

<div class="lbl" style="left:318.4px;top:727.2px;transform:scaleX(0.939)">Computer</div>
<div class="lbl" style="left:1083.7px;top:728.1px;transform:scaleX(0.946)">Print</div>
<div class="lbl" style="left:196.1px;top:1333.5px;transform:scaleX(0.941)">Sublimation machine</div>
<div class="lbl" style="left:957.4px;top:1336.0px;transform:scaleX(0.921)">Finished product</div>
<div class="dig" style="left:75.3px;top:696.0px;transform:scale(1.045,0.985)">1</div>
<div class="dig" style="left:787.7px;top:696.3px;transform:scale(0.996,0.977)">2</div>
<div class="dig" style="left:77.9px;top:1306.2px;transform:scale(0.967,0.988)">3</div>
<div class="dig" style="left:788.0px;top:1306.3px;transform:scale(0.983,0.978)">4</div>

</body></html>
